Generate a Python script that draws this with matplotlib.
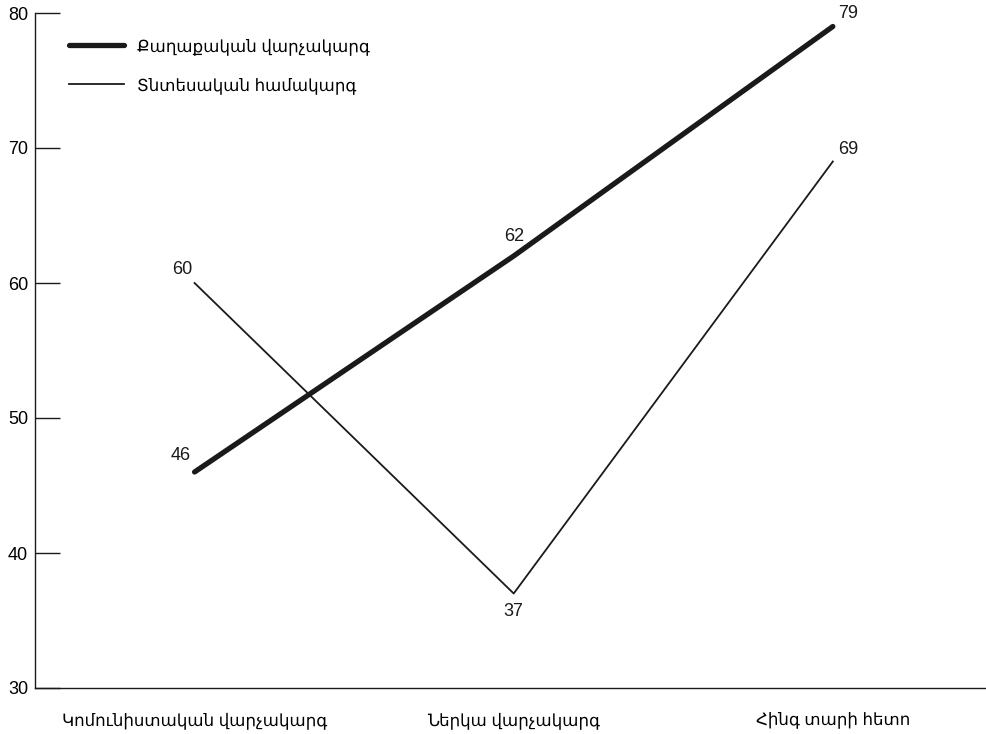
import matplotlib
matplotlib.use("Agg")
import matplotlib.pyplot as plt

plt.rcParams["font.family"] = ["Liberation Sans", "DejaVu Sans"]
plt.rcParams["font.size"] = 12

# Survey results by period
categories = ["Կոմունիստական վարչակարգ", "Ներկա վարչակարգ", "Հինգ տարի հետո"]
political = [46, 62, 79]
economic = [60, 37, 69]
series_names = ["Քաղաքական վարչակարգ", "Տնտեսական համակարգ"]
yticks = [30, 40, 50, 60, 70, 80]

# label offsets in points (dx, dy)
political_offsets = [(-10, 12), (0, 14), (11, 9)]
economic_offsets = [(-9, 10), (0, -13), (11, 9)]

fig = plt.figure(figsize=(9.86, 7.34), dpi=100)
ax = fig.add_axes([35 / 986, 46 / 734, 951 / 986, 675 / 734])

x = list(range(len(categories)))
color = "#1a1a1a"
ax.plot(x, political, color=color, lw=3.8, solid_capstyle="round", label=series_names[0])
ax.plot(x, economic, color=color, lw=1.3, label=series_names[1])

for xi, v, (dx, dy) in zip(x, political, political_offsets):
    ax.annotate(str(v), (xi, v), xytext=(dx, dy), textcoords="offset points",
                ha="center", va="center", fontsize=13, color=color)
for xi, v, (dx, dy) in zip(x, economic, economic_offsets):
    ax.annotate(str(v), (xi, v), xytext=(dx, dy), textcoords="offset points",
                ha="center", va="center", fontsize=13, color=color)

ax.set_xlim(-0.5, 2.48)
ax.set_ylim(30, 80)
ax.set_yticks(yticks)
ax.set_xticks(x)
ax.set_xticklabels(categories)
ax.tick_params(axis="y", direction="in", length=18, width=1, color=color,
               pad=5, labelsize=13)
ax.tick_params(axis="x", length=0, pad=17, labelsize=12)
for side in ["top", "right"]:
    ax.spines[side].set_visible(False)
for side in ["left", "bottom"]:
    ax.spines[side].set_color(color)
    ax.spines[side].set_linewidth(1)

ax.legend(loc="upper left", bbox_to_anchor=(0.02, 0.985), frameon=False,
          handlelength=3.3, labelspacing=1.3, fontsize=12)

fig.savefig("out.png", dpi=100)
